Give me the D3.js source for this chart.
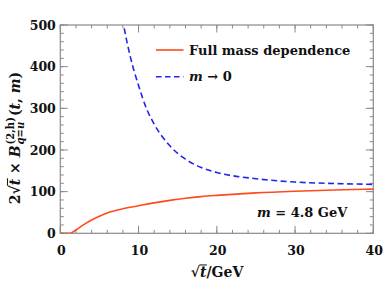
<!DOCTYPE html>
<html>
<head>
<meta charset="utf-8">
<script src="https://cdn.jsdelivr.net/npm/d3@7"></script>
<style>
  body { margin: 0; background: #fff; }
  text { font-family: "DejaVu Serif", serif; font-weight: bold; fill: #111; }
</style>
</head>
<body>
<div id="chart"></div>
<script>
// Full mass dependence curve
var fullX = [0, 1.25, 2, 3, 4, 5, 6, 8, 10, 12, 14, 16, 18, 20, 25, 30, 35, 40];
var fullY = [0, 0, 8, 21, 32, 41, 49, 59, 66, 73, 79, 84, 88, 91, 97, 101, 104, 106];
// m -> 0 curve
var zeroX = [7.6, 8.1, 9, 10, 11, 12, 14, 16, 18, 20, 25, 30, 35, 40];
var zeroY = [560, 500, 420, 355, 300, 262, 210, 178, 158, 146, 131, 123, 119.5, 117.5];

var xTicks = [0, 10, 20, 30, 40];
var yTicks = [0, 100, 200, 300, 400, 500];

var width = 383, height = 289;
var margin = { top: 25, right: 9.7, bottom: 55.7, left: 60.3 };
var pw = width - margin.left - margin.right,
    ph = height - margin.top - margin.bottom;

var svg = d3.select("#chart").append("svg")
    .attr("width", width).attr("height", height);

var x = d3.scaleLinear().domain([0, 40]).range([0, pw]);
var y = d3.scaleLinear().domain([0, 500]).range([ph, 0]);

var g = svg.append("g")
    .attr("transform", "translate(" + margin.left + "," + margin.top + ")");

svg.append("defs").append("clipPath").attr("id", "clip")
    .append("rect").attr("width", pw).attr("height", ph);

var frameColor = "#8a8a8a";

// ticks on all four sides, pointing inward
function tickSet(vals, len, which) {
    vals.forEach(function (v) {
        if (which == "x") {
            g.append("line").attr("x1", x(v)).attr("x2", x(v)).attr("y1", ph).attr("y2", ph - len)
                .attr("stroke", frameColor);
            g.append("line").attr("x1", x(v)).attr("x2", x(v)).attr("y1", 0).attr("y2", len)
                .attr("stroke", frameColor);
        } else {
            g.append("line").attr("y1", y(v)).attr("y2", y(v)).attr("x1", 0).attr("x2", len)
                .attr("stroke", frameColor);
            g.append("line").attr("y1", y(v)).attr("y2", y(v)).attr("x1", pw).attr("x2", pw - len)
                .attr("stroke", frameColor);
        }
    });
}
tickSet(d3.range(0, 41, 2), 3.5, "x");
tickSet(xTicks, 7.5, "x");
tickSet(d3.range(0, 501, 20), 3.5, "y");
tickSet(yTicks, 7.5, "y");

g.append("rect").attr("width", pw).attr("height", ph)
    .attr("fill", "none").attr("stroke", frameColor).attr("stroke-width", 1.2);

// tick labels
g.selectAll(".xl").data(xTicks).enter().append("text")
    .attr("x", function (d) { return x(d) + 1; }).attr("y", ph + 22)
    .attr("text-anchor", "middle").style("font-size", "12.5px")
    .text(function (d) { return d; });
g.selectAll(".yl").data(yTicks).enter().append("text")
    .attr("x", -4.5).attr("y", function (d) { return y(d) + 4.6; })
    .attr("text-anchor", "end").style("font-size", "12.5px")
    .text(function (d) { return d; });

// curves
var line = d3.line().x(function (d) { return x(d[0]); }).y(function (d) { return y(d[1]); })
    .curve(d3.curveMonotoneX);
var clipG = g.append("g").attr("clip-path", "url(#clip)");
clipG.append("path").datum(d3.zip(zeroX, zeroY))
    .attr("d", line).attr("fill", "none").attr("stroke", "#2323f0")
    .attr("stroke-width", 1.6).attr("stroke-dasharray", "6,3.5");
clipG.append("path").datum(d3.zip(fullX, fullY))
    .attr("d", line).attr("fill", "none").attr("stroke", "#ff4a1c")
    .attr("stroke-width", 1.6);

// little helper to lay out math-like text pieces in a row
function mathText(parent, parts, size, anchor) {
    var grp = parent.append("g");
    var cx = 0;
    parts.forEach(function (p) {
        if (p.sup != null) {
            var s1 = grp.append("text").attr("x", cx).attr("y", -size * 0.42)
                .style("font-size", (size * 0.72) + "px").text(p.sup);
            var s2 = grp.append("text").attr("x", cx).attr("y", size * 0.32)
                .style("font-size", (size * 0.72) + "px").style("font-style", "italic").text(p.sub);
            cx += Math.max(s1.node().getComputedTextLength(), s2.node().getComputedTextLength()) + 1;
            return;
        }
        var t = grp.append("text").attr("x", cx).attr("y", 0)
            .style("font-size", size + "px")
            .style("font-style", p.i ? "italic" : "normal")
            .attr("xml:space", "preserve")
            .text(p.t);
        var w = t.node().getComputedTextLength();
        if (p.over)
            grp.append("line").attr("x1", cx - 0.5).attr("x2", cx + w + 0.5)
                .attr("y1", -size * 0.86).attr("y2", -size * 0.86)
                .attr("stroke", "#111").attr("stroke-width", 1);
        cx += w + (p.gap || 0);
    });
    var shift = anchor == "middle" ? -cx / 2 : anchor == "end" ? -cx : 0;
    grp.selectAll("*").attr("transform", "translate(" + shift + ",0)");
    return grp;
}

// y axis label
var yl = svg.append("g").attr("transform", "translate(19.5,138) rotate(-90)");
mathText(yl, [
    { t: "2√" }, { t: "t", i: true, over: true }, { t: " × " }, { t: "B", i: true, gap: 1 },
    { sup: "(2,h)", sub: "q=u" }, { t: "(" }, { t: "t", i: true }, { t: ", " }, { t: "m", i: true }, { t: ")" }
], 14, "middle");

// x axis label
var xl = svg.append("g").attr("transform", "translate(217,277)");
mathText(xl, [{ t: "√" }, { t: "t", i: true, over: true }, { t: "/GeV" }], 14, "middle");

// legend
svg.append("line").attr("x1", 156).attr("x2", 183.5).attr("y1", 50).attr("y2", 50)
    .attr("stroke", "#ff4a1c").attr("stroke-width", 1.6);
svg.append("line").attr("x1", 156).attr("x2", 183.5).attr("y1", 76.7).attr("y2", 76.7)
    .attr("stroke", "#2323f0").attr("stroke-width", 1.6).attr("stroke-dasharray", "5.5,3.5");
svg.append("text").attr("x", 189).attr("y", 54.5).style("font-size", "13px")
    .text("Full mass dependence");
var lg2 = svg.append("g").attr("transform", "translate(189,80.5)");
mathText(lg2, [{ t: "m", i: true }, { t: " → 0" }], 13, "start");

// mass annotation
var ann = svg.append("g").attr("transform", "translate(257,216.5)");
mathText(ann, [{ t: "m", i: true }, { t: " = 4.8 GeV" }], 13, "start");
</script>
</body>
</html>
